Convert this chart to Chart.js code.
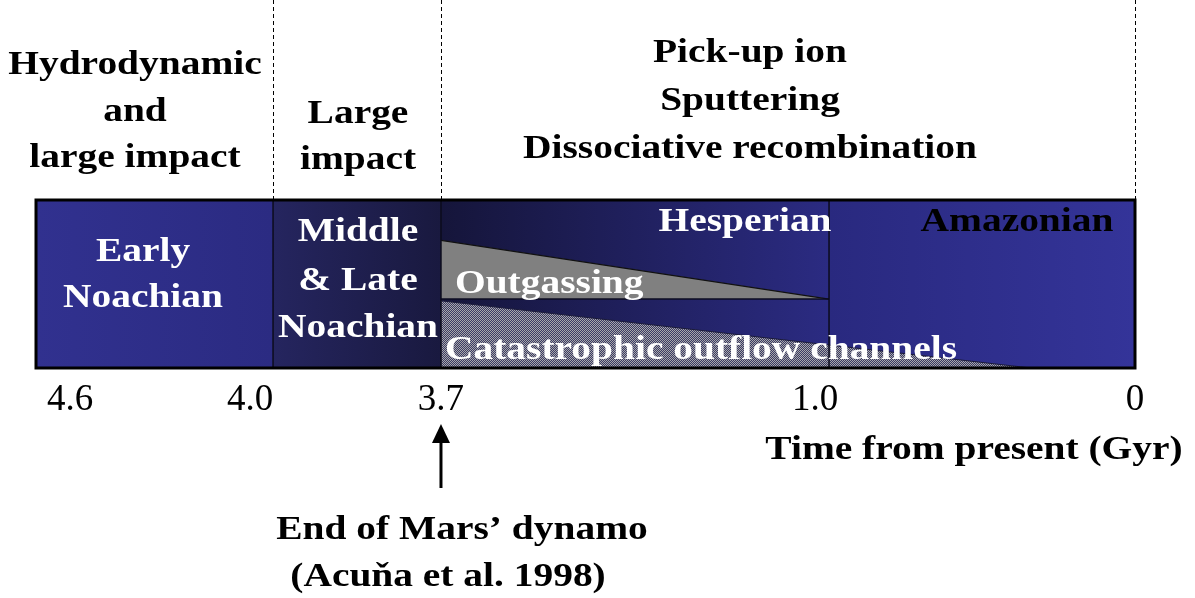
<!DOCTYPE html>
<html>
<head>
<meta charset="utf-8">
<script src="https://cdn.jsdelivr.net/npm/chart.js@4.4.1/dist/chart.umd.min.js"></script>
<style>
html,body{margin:0;padding:0;background:#ffffff;}
#wrap{width:1195px;height:598px;position:relative;}
</style>
</head>
<body>
<div id="wrap"><canvas id="c" width="1195" height="598"></canvas></div>
<script>
// ---------------- data ----------------
const eraNames = ['Early Noachian', 'Middle & Late Noachian', 'Hesperian', 'Amazonian'];
const eraStartGyr = [4.6, 4.0, 3.7, 1.0];
const eraEndGyr = [4.0, 3.7, 1.0, 0];
const eraLabelLines = [['Early', 'Noachian'], ['Middle', '& Late', 'Noachian'], ['Hesperian'], ['Amazonian']];
const tickValuesGyr = [4.6, 4.0, 3.7, 1.0, 0];
const tickLabels = ['4.6', '4.0', '3.7', '1.0', '0'];
// relative intensity inside the bar (0 = bottom, 1 = top)
const outgassingGyr = [3.7, 1.0];
const outgassingLevel = [0.76, 0.41];
const outgassingBase = 0.41;
const outflowGyr = [3.7, 0.34];
const outflowLevel = [0.40, 0];
const processBoundariesGyr = [4.0, 3.7, 0];
const processLines = [
  ['Hydrodynamic', 'and', 'large impact'],
  ['Large', 'impact'],
  ['Pick-up ion', 'Sputtering', 'Dissociative recombination']
];
const dynamoEndGyr = 3.7;
const dynamoNote = ['End of Mars\u2019 dynamo', '(Acu\u0148a et al. 1998)'];
const axisTitle = 'Time from present (Gyr)';

// ---------------- layout (schematic, not to scale) ----------------
const segmentFractions = [0, 0.2157, 0.3685, 0.7216, 1];
const tickNudge = [34, -23, 0, -14, 0];

class PiecewiseScale extends Chart.LinearScale {
  getPixelForValue(value) {
    if (value === null || value === undefined || isNaN(value)) return NaN;
    const b = tickValuesGyr, f = segmentFractions;
    let i = 0;
    while (i < b.length - 2 && value < b[i + 1]) i++;
    const t = (b[i] - value) / (b[i] - b[i + 1]);
    const frac = f[i] + t * (f[i + 1] - f[i]);
    return this.left + frac * this.width;
  }
  getValueForPixel(pixel) {
    const frac = (pixel - this.left) / this.width;
    const b = tickValuesGyr, f = segmentFractions;
    let i = 0;
    while (i < f.length - 2 && frac > f[i + 1]) i++;
    const t = (frac - f[i]) / (f[i + 1] - f[i]);
    return b[i] + t * (b[i + 1] - b[i]);
  }
  getPixelForTick(index) {
    const ticks = this.ticks;
    if (index < 0 || index > ticks.length - 1) return null;
    return this.getPixelForValue(ticks[index].value) + (tickNudge[index] || 0);
  }
}
PiecewiseScale.id = 'piecewise';
PiecewiseScale.defaults = Chart.LinearScale.defaults;
Chart.register(PiecewiseScale);

const SERIF = '"Liberation Serif", "Times New Roman", serif';
const eraColors = [
  ['#31318f', '#2b2b82'],
  ['#25255f', '#19193f'],
  ['#15153a', '#2b2b82'],
  ['#29297f', '#343499']
];

function eraGradient(chart, i) {
  const xs = chart.scales.x;
  if (!chart.chartArea || !xs) return eraColors[i][0];
  const x0 = xs.getPixelForValue(eraStartGyr[i]);
  const x1 = xs.getPixelForValue(eraEndGyr[i]);
  const g = chart.ctx.createLinearGradient(x0, 0, x1, 0);
  g.addColorStop(0, eraColors[i][0]);
  g.addColorStop(1, eraColors[i][1]);
  return g;
}

function makeDither() {
  const p = document.createElement('canvas');
  p.width = 2; p.height = 2;
  const g = p.getContext('2d');
  g.fillStyle = '#3a3a66'; g.fillRect(0, 0, 2, 2);
  g.fillStyle = '#a8a8a8'; g.fillRect(0, 0, 1, 1); g.fillRect(1, 1, 1, 1);
  return document.getElementById('c').getContext('2d').createPattern(p, 'repeat');
}
const dither = makeDither();

const datasets = [];
eraNames.forEach((name, i) => {
  datasets.push({
    type: 'line', label: name,
    data: [{ x: eraStartGyr[i], y: 1 }, { x: eraEndGyr[i], y: 1 }],
    fill: 'origin', borderColor: 'rgba(0,0,0,0)', borderWidth: 0, pointRadius: 0,
    backgroundColor: (c) => eraGradient(c.chart, i), order: 10
  });
});
datasets.push({
  type: 'line', label: 'Outgassing',
  data: outgassingGyr.map((g, k) => ({ x: g, y: outgassingLevel[k] })),
  fill: { value: outgassingBase }, borderColor: '#111111', borderWidth: 1.2, pointRadius: 0,
  backgroundColor: '#808080', order: 6
});
datasets.push({
  type: 'line', label: 'Catastrophic outflow channels',
  data: outflowGyr.map((g, k) => ({ x: g, y: outflowLevel[k] })),
  fill: 'origin', borderColor: '#1a1a3a', borderWidth: 1, pointRadius: 0,
  backgroundColor: dither, order: 6
});
datasets.push({
  type: 'line', label: 'outgassing base',
  data: [{ x: outgassingGyr[0], y: outgassingBase }, { x: outgassingGyr[1], y: outgassingBase }],
  fill: false, borderColor: '#0d0d22', borderWidth: 1.5, pointRadius: 0, order: 2
});
eraStartGyr.slice(1).forEach((v) => {
  datasets.push({
    type: 'line', label: 'boundary ' + v,
    data: [{ x: v, y: 0 }, { x: v, y: 1 }],
    fill: false, borderColor: '#0b0b1c', borderWidth: 1.5, pointRadius: 0, order: 1
  });
});

function stretchText(ctx, text, x, y, color, align) {
  ctx.save();
  ctx.font = 'bold 34px ' + SERIF;
  ctx.textAlign = align || 'center';
  ctx.textBaseline = 'middle';
  ctx.fillStyle = color;
  ctx.translate(x, y);
  ctx.scale(1.16, 1);
  ctx.fillText(text, 0, 0);
  ctx.restore();
}

const decor = {
  id: 'decor',
  afterDatasetsDraw(chart) {
    const ctx = chart.ctx, a = chart.chartArea, xs = chart.scales.x;
    // outer frame
    ctx.save();
    ctx.strokeStyle = '#000';
    ctx.lineWidth = 3;
    ctx.strokeRect(a.left, a.top, a.right - a.left, a.bottom - a.top);
    // dashed process boundaries
    ctx.lineWidth = 1;
    ctx.setLineDash([4, 3]);
    processBoundariesGyr.forEach((v) => {
      const x = Math.round(xs.getPixelForValue(v)) + 0.5;
      ctx.beginPath(); ctx.moveTo(x, 0); ctx.lineTo(x, a.top - 1); ctx.stroke();
    });
    ctx.setLineDash([]);
    // arrow: end of dynamo
    const ax = xs.getPixelForValue(dynamoEndGyr);
    ctx.strokeStyle = '#000'; ctx.fillStyle = '#000'; ctx.lineWidth = 3;
    ctx.beginPath(); ctx.moveTo(ax, a.bottom + 120); ctx.lineTo(ax, a.bottom + 70); ctx.stroke();
    ctx.beginPath(); ctx.moveTo(ax, a.bottom + 56); ctx.lineTo(ax - 9, a.bottom + 75); ctx.lineTo(ax + 9, a.bottom + 75); ctx.closePath(); ctx.fill();
    ctx.restore();

    // era labels
    const eraPos = [
      { x: 143, y: [252, 298], c: '#ffffff' },
      { x: 358, y: [232, 281, 328], c: '#ffffff' },
      { x: 745, y: [222], c: '#ffffff' },
      { x: 1017, y: [222], c: '#000000' }
    ];
    eraLabelLines.forEach((lines, i) => {
      lines.forEach((t, k) => stretchText(ctx, t, eraPos[i].x, eraPos[i].y[k], eraPos[i].c));
    });
    stretchText(ctx, 'Outgassing', 455, 284, '#ffffff', 'left');
    stretchText(ctx, 'Catastrophic outflow channels', 445, 350, '#ffffff', 'left');

    // process labels above
    const procPos = [
      { x: 135, y: [65, 112, 158] },
      { x: 358, y: [114, 160] },
      { x: 750, y: [53, 101, 149] }
    ];
    processLines.forEach((lines, i) => {
      lines.forEach((t, k) => stretchText(ctx, t, procPos[i].x, procPos[i].y[k], '#000000'));
    });
    // axis title and note
    stretchText(ctx, axisTitle, 974, 450, '#000000');
    stretchText(ctx, dynamoNote[0], 462, 530, '#000000');
    stretchText(ctx, dynamoNote[1], 448, 577, '#000000');
  }
};

new Chart(document.getElementById('c'), {
  type: 'line',
  data: { datasets },
  options: {
    responsive: false,
    animation: false,
    events: [],
    layout: { padding: { left: 36, right: 60, top: 200, bottom: 182 } },
    plugins: { legend: { display: false }, tooltip: { enabled: false } },
    scales: {
      x: {
        type: 'piecewise',
        min: 0, max: 4.6,
        afterBuildTicks: (s) => { s.ticks = tickValuesGyr.map((v) => ({ value: v })); },
        afterFit: (s) => { s.height = 48; },
        grid: { display: false, drawTicks: false },
        border: { display: false },
        ticks: {
          autoSkip: false, maxRotation: 0, padding: 10,
          color: '#000',
          font: { family: SERIF, size: 37, weight: 'normal' },
          callback: (v, i) => tickLabels[i]
        }
      },
      y: { type: 'linear', min: 0, max: 1, display: false }
    }
  },
  plugins: [decor]
});
</script>
</body>
</html>
